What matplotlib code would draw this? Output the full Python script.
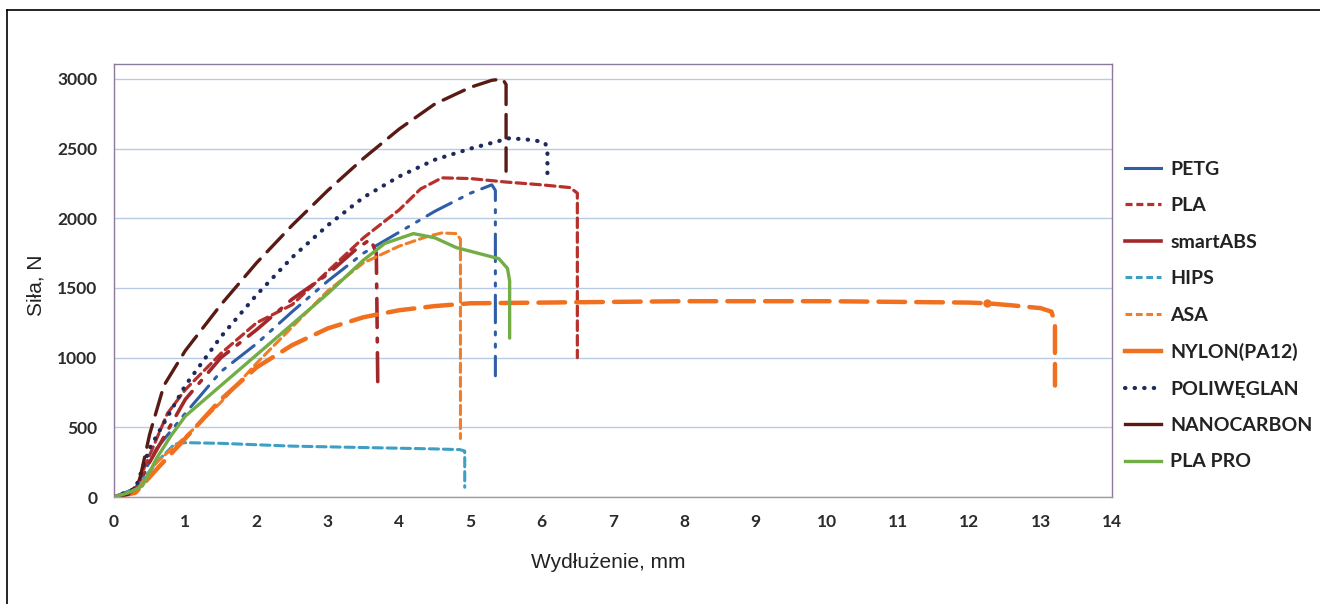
import matplotlib
matplotlib.use("Agg")
import matplotlib.pyplot as plt
from matplotlib.lines import Line2D

# ---------------- data (elongation mm, force N) ----------------
petg_x = [0, 0.3, 0.6, 1.0, 1.5, 2.0, 2.5, 3.0, 3.5, 4.0, 4.5, 5.0, 5.3, 5.35, 5.35]
petg_y = [0, 60, 350, 600, 900, 1100, 1330, 1550, 1750, 1900, 2050, 2180, 2240, 2200, 870]

pla_x = [0, 0.3, 0.5, 0.75, 1.0, 1.5, 2.0, 2.5, 3.0, 3.5, 4.0, 4.3, 4.6, 5.0, 5.5, 6.0, 6.4, 6.5, 6.5]
pla_y = [0, 60, 300, 600, 770, 1030, 1250, 1380, 1620, 1860, 2060, 2210, 2290, 2285, 2260, 2240, 2220, 2180, 1000]

sabs_x = [0, 0.3, 0.5, 1.0, 1.5, 2.0, 2.5, 3.0, 3.4, 3.6, 3.68, 3.7]
sabs_y = [0, 40, 250, 700, 1000, 1200, 1420, 1600, 1780, 1850, 1750, 820]

hips_x = [0, 0.3, 0.6, 0.85, 1.0, 1.5, 2.0, 2.5, 3.0, 3.5, 4.0, 4.5, 4.85, 4.92, 4.92]
hips_y = [0, 60, 250, 380, 390, 385, 375, 365, 360, 355, 350, 345, 340, 330, 70]

asa_x = [0, 0.3, 0.6, 1.0, 1.5, 2.0, 2.5, 3.0, 3.5, 4.0, 4.4, 4.6, 4.8, 4.86, 4.86]
asa_y = [0, 30, 250, 430, 680, 960, 1220, 1480, 1680, 1800, 1870, 1895, 1890, 1850, 420]

nylon_x = [0, 0.3, 0.6, 1.0, 1.5, 2.0, 2.5, 3.0, 3.5, 4.0, 4.5, 5.0, 6.0, 7.0, 8.0, 9.0,
           10.0, 11.0, 12.0, 12.25, 12.6, 13.0, 13.15, 13.2, 13.2]
nylon_y = [0, 30, 200, 420, 700, 930, 1090, 1210, 1290, 1340, 1370, 1390, 1395, 1400, 1405, 1405,
           1405, 1400, 1395, 1390, 1375, 1355, 1330, 1250, 800]

poli_x = [0, 0.3, 0.5, 1.0, 1.5, 2.0, 2.5, 3.0, 3.5, 4.0, 4.5, 5.0, 5.55, 5.9, 6.05, 6.08, 6.08]
poli_y = [0, 60, 350, 800, 1150, 1450, 1720, 1950, 2150, 2300, 2420, 2500, 2575, 2560, 2540, 2480, 2290]

nano_x = [0, 0.2, 0.35, 0.5, 0.7, 1.0, 1.5, 2.0, 2.5, 3.0, 3.5, 4.0, 4.5, 5.0, 5.3, 5.45, 5.5, 5.5]
nano_y = [0, 20, 100, 450, 800, 1050, 1380, 1680, 1950, 2200, 2430, 2640, 2820, 2940, 2990, 3000, 2960, 2330]

plapro_x = [0, 0.2, 0.4, 0.6, 0.8, 1.0, 1.5, 2.0, 2.5, 3.0, 3.5, 3.8, 4.2, 4.5, 4.8, 5.1, 5.4, 5.52, 5.55, 5.55]
plapro_y = [0, 30, 80, 280, 440, 580, 800, 1020, 1240, 1460, 1700, 1820, 1890, 1860, 1790, 1750, 1710, 1640, 1550, 1140]

labels = ["PETG", "PLA", "smartABS", "HIPS", "ASA", "NYLON(PA12)", "POLIWĘGLAN", "NANOCARBON", "PLA PRO"]
x_ticks = list(range(0, 15))
y_ticks = list(range(0, 3001, 500))

# ---------------- styling ----------------
series = [
    (petg_x, petg_y, "#2F5DA6", (0, (9, 3, 1, 3, 1, 3)), 2.2, "-"),
    (pla_x, pla_y, "#B7312C", (0, (3, 1.6)), 2.3, (0, (2.2, 1.2))),
    (sabs_x, sabs_y, "#A3282B", (0, (8, 3, 1, 3)), 2.6, "-"),
    (hips_x, hips_y, "#3E9FC4", (0, (3, 1.6)), 2.2, (0, (2.2, 1.2))),
    (asa_x, asa_y, "#F07D28", (0, (3, 1.6)), 2.2, (0, (2.2, 1.2))),
    (nylon_x, nylon_y, "#F07020", (0, (6, 2.5)), 3.2, "-"),
    (poli_x, poli_y, "#1C2A5C", (0, (0.1, 2.2)), 3.0, (0, (0.1, 2.2))),
    (nano_x, nano_y, "#5A1A14", (0, (7, 3)), 2.4, "-"),
    (plapro_x, plapro_y, "#72AD45", "-", 2.4, "-"),
]

W, H = 1320, 604
fig = plt.figure(figsize=(W / 100, H / 100), dpi=100)
ax = fig.add_axes([114 / W, 1 - 497 / H, (1112 - 114) / W, (497 - 64) / H])

handles = []
for (xs, ys, col, ls, lw, lls), lab in zip(series, labels):
    ax.plot(xs, ys, color=col, linestyle=ls, linewidth=lw,
            dash_capstyle="round", solid_capstyle="round", solid_joinstyle="round")
    handles.append(Line2D([0], [0], color=col, linestyle=lls, linewidth=lw,
                          dash_capstyle="round" if lab == "POLIWĘGLAN" else "butt"))

ax.plot([12.25], [1390], marker="o", markersize=5, color="#F07020")

ax.set_xlim(0, 14)
ax.set_ylim(0, 3107)
ax.set_xticks(x_ticks)
ax.set_yticks(y_ticks)
ax.yaxis.grid(True, color="#B9CBE3", linewidth=1.0)
ax.set_axisbelow(True)
ax.tick_params(axis="y", length=0, pad=12, labelcolor="#2B2B2B")
ax.tick_params(axis="x", length=0, pad=12, labelcolor="#2B2B2B")
for lab in ax.get_xticklabels() + ax.get_yticklabels():
    lab.set_fontfamily("Lato")
    lab.set_fontweight("bold")
    lab.set_fontsize(12.5)

for s in ["left", "top", "right"]:
    ax.spines[s].set_color("#8C7A9C")
    ax.spines[s].set_linewidth(1.0)
ax.spines["bottom"].set_color("#A89A9A")
ax.spines["bottom"].set_linewidth(1.0)

fig.text(36 / W, 1 - 285 / H, "Siła, N", rotation=90, ha="center", va="center",
         fontsize=15, family="Liberation Sans", color="#222222")
fig.text(608 / W, 1 - 563 / H, "Wydłużenie, mm", ha="center", va="center",
         fontsize=15, family="Liberation Sans", color="#222222")

leg = fig.legend(handles, labels, loc="upper left",
                 bbox_to_anchor=(1117 / W, 1 - 153 / H),
                 frameon=False, handlelength=1.85, handletextpad=0.5,
                 labelspacing=1.0, borderaxespad=0,
                 prop={"family": "Lato", "weight": "bold", "size": 14})
for t in leg.get_texts():
    t.set_color("#222222")

# outer frame (partially clipped as in the original)
fig.add_artist(Line2D([7 / W, 7 / W], [0, 1 - 10 / H], color="black", linewidth=1.2,
                      transform=fig.transFigure))
fig.add_artist(Line2D([7 / W, 1], [1 - 10 / H, 1 - 10 / H], color="black", linewidth=1.2,
                      transform=fig.transFigure))

fig.savefig("out.png", dpi=100)
